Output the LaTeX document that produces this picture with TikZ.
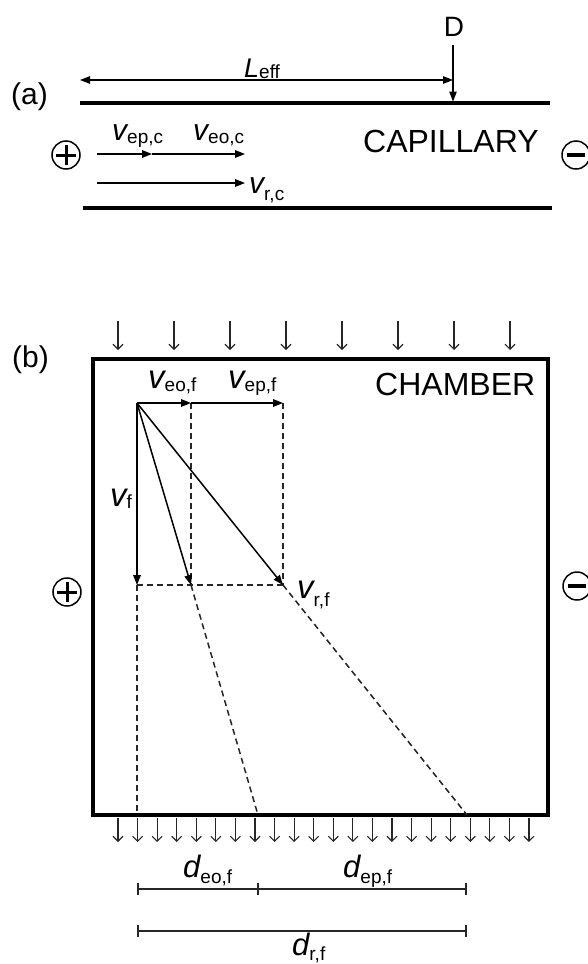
\documentclass[tikz,border=0pt]{standalone}
\usepackage{fontspec}
\setmainfont{Liberation Sans}
\usetikzlibrary{arrows.meta}
\newcommand{\Lb}[4]{{\fontsize{#1}{#1}\selectfont\itshape #2}\raisebox{-#4pt}{\fontsize{19}{19}\selectfont #3}}
\begin{document}
\begin{tikzpicture}[x=1pt,y=-1pt,
  lbl/.style={inner sep=0pt,anchor=base west},
  wall/.style={line width=3.5pt},
  vec/.style={line width=1.5pt,-{Triangle[length=10pt,width=7.5pt]}},
  dsh/.style={line width=1.5pt,dash pattern=on 6pt off 4pt,black!85},
  flow/.style={line width=1.1pt,black!85,-{Straight Barb[length=5pt,width=10pt]}},
  dimline/.style={line width=1.5pt,black!85},
  pole/.style={circle,draw,line width=1.5pt,minimum size=28pt,inner sep=0pt},
  plus/.style={pole,path picture={\draw[line width=3pt]
    ([xshift=-10pt]path picture bounding box.center) -- ([xshift=10pt]path picture bounding box.center)
    ([yshift=-10pt]path picture bounding box.center) -- ([yshift=10pt]path picture bounding box.center);}},
  minus/.style={pole,path picture={\draw[line width=4pt]
    ([xshift=-9pt]path picture bounding box.center) -- ([xshift=9pt]path picture bounding box.center);}}
]
\useasboundingbox (0,0) rectangle (587,964);

% ---------------- (a) capillary ----------------
\node[lbl,font=\fontsize{30}{30}\selectfont] (alab) at (11,104) {(a)};
\node[inner sep=0pt,anchor=base,font=\fontsize{28}{28}\selectfont] (D) at (454,36) {D};
\node[lbl] (Leff) at (244,77) {\Lb{27}{L}{eff}{1}};

\coordinate (t1) at (80,103);  \coordinate (t2) at (550,103);
\coordinate (b1) at (83,208);  \coordinate (b2) at (552,208);
\draw[wall] (t1) -- (t2);
\draw[wall] (b1) -- (b2);

\coordinate (la) at (80,80); \coordinate (lb) at (453,80);
\draw[line width=1.3pt,{Triangle[length=10pt,width=7.5pt]}-{Triangle[length=10pt,width=7.5pt]}] (la) -- (lb);
\coordinate (da) at (453,45); \coordinate (db) at (453,101.5);
\draw[line width=1.3pt,-{Triangle[length=10pt,width=7.5pt]}] (da) -- (db);

\node[lbl,font=\fontsize{32}{32}\selectfont] (cap) at (363,152) {CAPILLARY};

\node[plus] (pa) at (66,155) {};
\node[minus] (ma) at (576,155) {};

\coordinate (p0) at (97,154); \coordinate (p1) at (152,154); \coordinate (p2) at (245,154);
\coordinate (q0) at (97,183); \coordinate (q2) at (245,183);
\draw[vec] (p0) -- (p1);
\draw[vec] (p1) -- (p2);
\draw[vec] (q0) -- (q2);
\node[lbl] (vepc) at (112,140) {\Lb{30}{v}{ep,c}{3}};
\node[lbl] (veoc) at (193,140) {\Lb{30}{v}{eo,c}{3}};
\node[lbl] (vrc) at (249,193) {\Lb{30}{v}{r,c}{7}};

% ---------------- (b) chamber ----------------
\node[lbl,font=\fontsize{30}{30}\selectfont] (blab) at (12,367) {(b)};
\coordinate (c1) at (93,359); \coordinate (c2) at (548,815);
\draw[wall] (c1) rectangle (c2);
\node[lbl,font=\fontsize{32}{32}\selectfont] (chamber) at (375,395) {CHAMBER};

\foreach \i in {0,...,7}
  \draw[flow] ({118+56*\i},321) -- ({118+56*\i},350);
\foreach \i in {0,...,21}
  \draw[flow] ({118+19.57*\i},818) -- ({118+19.57*\i},842);

\node[plus] (pb) at (67,592) {};
\node[minus] (mb) at (577,586) {};

\coordinate (O) at (137,403);
\coordinate (A) at (191,403);
\coordinate (B) at (283,403);
\coordinate (F) at (137,585);
\coordinate (E) at (191,585);
\coordinate (R) at (283,585);
\coordinate (Fb) at (137,815);
\coordinate (Eb) at (258,815);
\coordinate (Rb) at (467,815);

\draw[dsh] (A) -- (E);
\draw[dsh] (B) -- (R);
\draw[dsh] (F) -- (R);
\draw[dsh] (F) -- (Fb);
\draw[dsh] (E) -- (Eb);
\draw[dsh] (R) -- (Rb);

\draw[vec] (O) -- (A);
\draw[vec] (A) -- (B);
\draw[vec] (O) -- (F);
\draw[vec] (O) -- (E);
\draw[vec] (O) -- (R);

\node[lbl] (veof) at (148,388) {\Lb{33}{v}{eo,f}{3}};
\node[lbl] (vepf) at (228,388) {\Lb{33}{v}{ep,f}{3}};
\node[lbl] (vf) at (110,506) {\Lb{33}{v}{f}{2}};
\node[lbl] (vrf) at (297,598) {\Lb{33}{v}{r,f}{8}};

% dimension lines
\coordinate (d1) at (138,889); \coordinate (d2) at (258,889); \coordinate (d3) at (466,889);
\coordinate (e1) at (138,931); \coordinate (e3) at (466,931);
\draw[dimline] (d1) -- (d3);
\draw[dimline] (e1) -- (e3);
\foreach \p in {d1,d2,d3,e1,e3}
  \draw[dimline] ([yshift=6pt]\p) -- ([yshift=-6pt]\p);

\node[lbl] (deof) at (183,877) {\Lb{31}{d}{eo,f}{6}};
\node[lbl] (depf) at (343,877) {\Lb{31}{d}{ep,f}{6}};
\node[lbl] (drf) at (292,955) {\Lb{31}{d}{r,f}{5}};
\end{tikzpicture}
\end{document}
